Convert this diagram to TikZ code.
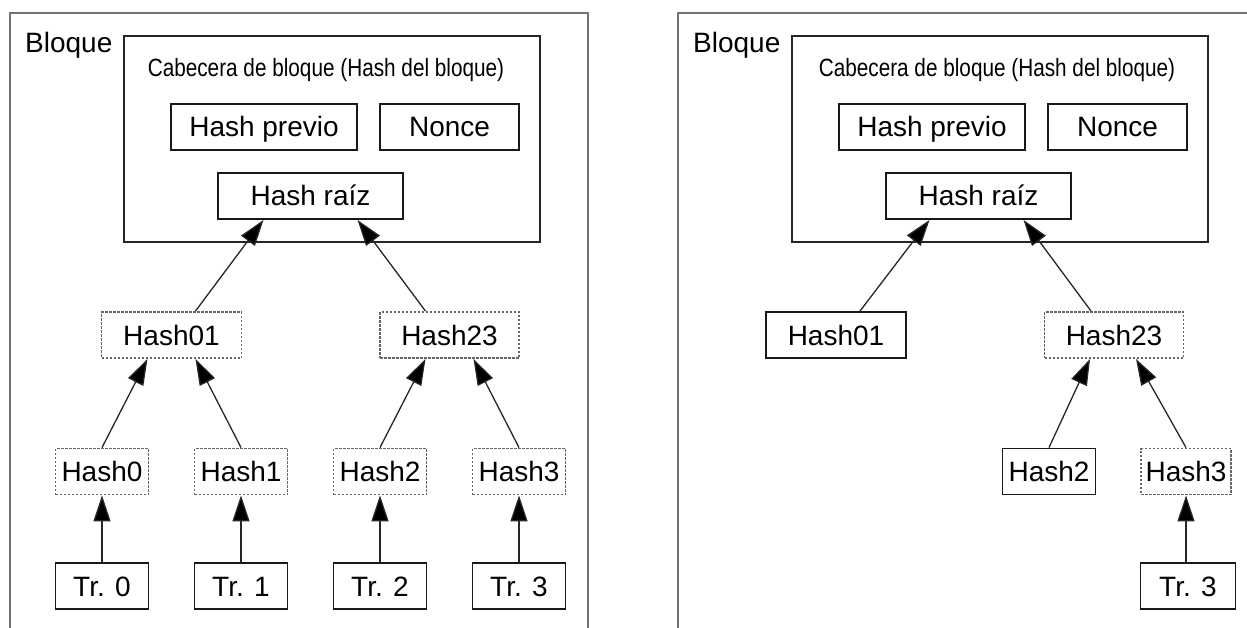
\documentclass[tikz,border=0pt]{standalone}
\usepackage{fontspec}
\setmainfont{Liberation Sans}
\usepackage{graphicx}
\usetikzlibrary{arrows.meta}
\tikzset{
  hbox/.style={rectangle, draw=black!90, line width=1.9pt, minimum height=46pt, inner sep=0pt, text height=20pt, text depth=0pt},
  dbox/.style={hbox, draw=black!60, dash pattern=on 2.5pt off 1.5pt},
  hdr/.style={rectangle, draw=black!85, line width=1.5pt, inner sep=0pt},
  hdrtext/.style={font=\fontsize{25}{28}\selectfont},
  blockframe/.style={draw=black!55, line width=1.8pt},
  hashlink/.style={draw=black!85, line width=1.3pt, -{Triangle[length=26pt,width=17pt,fill=black]}}
}

\begin{document}
\begin{tikzpicture}[x=1pt, y=-1pt, font=\fontsize{28}{32}\selectfont]
  \useasboundingbox (0,0) rectangle (1247,628);
  \clip (0,0) rectangle (1247,628);

  % Left block: complete tree
  \draw[blockframe] (10,13) rectangle (588,660);
  \node[anchor=base west, inner xsep=0pt] (blqL) at (25,53) {Bloque};
  \node[hdr, minimum width=416pt, minimum height=206pt] (hdrL) at (332,139) {};
  \node[hdrtext, anchor=base] (titL) at (326,77) {\scalebox{0.83}[1]{Cabecera de bloque (Hash del bloque)}};
  \node[hbox, minimum width=186pt] (prevL) at (264,127) {Hash previo};
  \node[hbox, minimum width=139pt] (nonceL) at (449.5,127) {Nonce};
  \node[hbox, minimum width=185pt] (rootL) at (310.5,196) {Hash raíz};

  \node[dbox, minimum width=140pt] (h01L) at (171.5,335) {Hash01};
  \node[dbox, minimum width=139pt] (h23L) at (449.5,335) {Hash23};

  \foreach \i/\x in {0/102, 1/241, 2/380, 3/519}{
    \node[dbox, minimum width=93pt] (h\i L) at (\x,471.5) {Hash\i};
    \node[hbox, minimum width=93pt] (t\i L) at (\x,586) {Tr. \i};
    \draw[hashlink] (t\i L) -- (h\i L);
  }

  \draw[hashlink] (h0L.north) -- ([xshift=-24pt]h01L.south);
  \draw[hashlink] (h1L.north) -- ([xshift=24pt]h01L.south);
  \draw[hashlink] (h2L.north) -- ([xshift=-24pt]h23L.south);
  \draw[hashlink] (h3L.north) -- ([xshift=24pt]h23L.south);
  \draw[hashlink] ([xshift=24pt]h01L.north) -- ([xshift=-47pt]rootL.south);
  \draw[hashlink] ([xshift=-24pt]h23L.north) -- ([xshift=47pt]rootL.south);

  % Right block: pruned tree for Tr. 3
  \begin{scope}[xshift=668pt]
    \draw[blockframe] (10,13) rectangle (588,660);
    \node[anchor=base west, inner xsep=0pt] (blqR) at (25,53) {Bloque};
    \node[hdr, minimum width=416pt, minimum height=206pt] (hdrR) at (332,139) {};
    \node[hdrtext, anchor=base] (titR) at (329,77) {\scalebox{0.83}[1]{Cabecera de bloque (Hash del bloque)}};
    \node[hbox, minimum width=186pt] (prevR) at (264,127) {Hash previo};
    \node[hbox, minimum width=139pt] (nonceR) at (449.5,127) {Nonce};
    \node[hbox, minimum width=185pt] (rootR) at (310.5,196) {Hash raíz};

    \node[hbox, minimum width=140pt] (h01R) at (168,335) {Hash01};
    \node[dbox, minimum width=139pt] (h23R) at (446,335) {Hash23};
    \node[hbox, minimum width=93pt] (h2R) at (381,471.5) {Hash2};
    \node[dbox, minimum width=90pt] (h3R) at (518,471.5) {Hash3};
    \node[hbox, minimum width=95pt] (t3R) at (520,586) {Tr. 3};
  \end{scope}

  \draw[hashlink] (t3R.north -| h3R) -- (h3R);
  \draw[hashlink] (h2R.north) -- ([xshift=-24pt]h23R.south);
  \draw[hashlink] (h3R.north) -- ([xshift=22pt]h23R.south);
  \draw[hashlink] ([xshift=24pt]h01R.north) -- ([xshift=-49pt]rootR.south);
  \draw[hashlink] ([xshift=-23pt]h23R.north) -- ([xshift=45pt]rootR.south);
\end{tikzpicture}
\end{document}
